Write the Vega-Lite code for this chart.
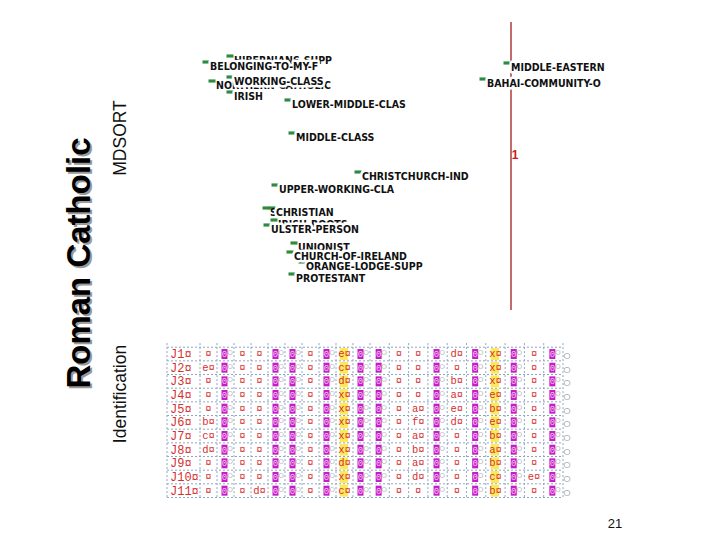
{
  "$schema": "https://vega.github.io/schema/vega-lite/v6.json",
  "width": 720,
  "height": 540,
  "autosize": {"type": "fit", "contains": "padding"},
  "padding": 0,
  "background": "white",
  "config": {"view": {"stroke": null}},
  "datasets": {
    "pts": [
      {"term": "HIBERNIANS-SUPP", "d1": -2.81, "d2": 2.44, "tier": "under"},
      {"term": "BELONGING-TO-MY-F", "d1": -3.05, "d2": 2.38, "tier": "over"},
      {"term": "NORTHERN-CATHOLIC", "d1": -2.99, "d2": 2.19, "tier": "under"},
      {"term": "WORKING-CLASS", "d1": -2.81, "d2": 2.23, "tier": "over"},
      {"term": "IRISH", "d1": -2.81, "d2": 2.08, "tier": "over"},
      {"term": "LOWER-MIDDLE-CLAS", "d1": -2.23, "d2": 2.0, "tier": "over"},
      {"term": "MIDDLE-CLASS", "d1": -2.19, "d2": 1.67, "tier": "over"},
      {"term": "CHRISTCHURCH-IND", "d1": -1.53, "d2": 1.28, "tier": "over"},
      {"term": "UPPER-WORKING-CLA", "d1": -2.36, "d2": 1.15, "tier": "over"},
      {"term": "SCOTTISH", "d1": -2.45, "d2": 0.92, "tier": "under"},
      {"term": "CHRISTIAN", "d1": -2.39, "d2": 0.92, "tier": "over"},
      {"term": "IRISH-ROOTS", "d1": -2.37, "d2": 0.8, "tier": "under"},
      {"term": "ULSTER-PERSON", "d1": -2.44, "d2": 0.75, "tier": "over"},
      {"term": "UNIONIST", "d1": -2.17, "d2": 0.57, "tier": "under"},
      {"term": "CHURCH-OF-IRELAND", "d1": -2.21, "d2": 0.48, "tier": "over"},
      {"term": "ORANGE-LODGE-SUPP", "d1": -2.09, "d2": 0.38, "tier": "over"},
      {"term": "PROTESTANT", "d1": -2.19, "d2": 0.26, "tier": "over"},
      {"term": "MIDDLE-EASTERN", "d1": -0.04, "d2": 2.37, "tier": "over"},
      {"term": "BAHAI-COMMUNITY-O", "d1": -0.28, "d2": 2.21, "tier": "over"}
    ],
    "rows": [
      {"row": 1, "id": "J1¤", "tc": [2,4,5,8,10,13,14,16,18,20], "t": ["¤","¤","¤","¤","e¤","¤","¤","d¤","x¤","¤"], "mc": [3,6,7,9,11,12,15,17,19,21]},
      {"row": 2, "id": "J2¤", "tc": [2,4,5,8,10,13,14,16,18,20], "t": ["e¤","¤","¤","¤","c¤","¤","¤","¤","x¤","¤"], "mc": [3,6,7,9,11,12,15,17,19,21]},
      {"row": 3, "id": "J3¤", "tc": [2,4,5,8,10,13,14,16,18,20], "t": ["¤","¤","¤","¤","d¤","¤","¤","b¤","x¤","¤"], "mc": [3,6,7,9,11,12,15,17,19,21]},
      {"row": 4, "id": "J4¤", "tc": [2,4,5,8,10,13,14,16,18,20], "t": ["¤","¤","¤","¤","x¤","¤","¤","a¤","e¤","¤"], "mc": [3,6,7,9,11,12,15,17,19,21]},
      {"row": 5, "id": "J5¤", "tc": [2,4,5,8,10,13,14,16,18,20], "t": ["¤","¤","¤","¤","x¤","¤","a¤","e¤","b¤","¤"], "mc": [3,6,7,9,11,12,15,17,19,21]},
      {"row": 6, "id": "J6¤", "tc": [2,4,5,8,10,13,14,16,18,20], "t": ["b¤","¤","¤","¤","x¤","¤","f¤","d¤","e¤","¤"], "mc": [3,6,7,9,11,12,15,17,19,21]},
      {"row": 7, "id": "J7¤", "tc": [2,4,5,8,10,13,14,16,18,20], "t": ["c¤","¤","¤","¤","x¤","¤","a¤","¤","b¤","¤"], "mc": [3,6,7,9,11,12,15,17,19,21]},
      {"row": 8, "id": "J8¤", "tc": [2,4,5,8,10,13,14,16,18,20], "t": ["d¤","¤","¤","¤","x¤","¤","b¤","¤","a¤","¤"], "mc": [3,6,7,9,11,12,15,17,19,21]},
      {"row": 9, "id": "J9¤", "tc": [2,4,5,8,10,13,14,16,18,20], "t": ["¤","¤","¤","¤","d¤","¤","a¤","¤","b¤","¤"], "mc": [3,6,7,9,11,12,15,17,19,21]},
      {"row": 10, "id": "J10¤", "tc": [2,4,5,8,10,13,14,16,18,20], "t": ["¤","¤","¤","¤","x¤","¤","d¤","¤","c¤","e¤"], "mc": [3,6,7,9,11,12,15,17,19,21]},
      {"row": 11, "id": "J11¤", "tc": [2,4,5,8,10,13,14,16,18,20], "t": ["¤","¤","d¤","¤","c¤","¤","¤","¤","b¤","¤"], "mc": [3,6,7,9,11,12,15,17,19,21]}
    ],
    "vlines": [{"col": 0},{"col": 1.5},{"col": 2.5},{"col": 3.5},{"col": 4.5},{"col": 5.5},{"col": 6.5},{"col": 7.5},{"col": 8.5},{"col": 9.5},{"col": 10.5},{"col": 11.5},{"col": 12.5},{"col": 13.5},{"col": 14.5},{"col": 15.5},{"col": 16.5},{"col": 17.5},{"col": 18.5},{"col": 19.5},{"col": 20.5},{"col": 21.5}],
    "hlines": [{"row": 0.5},{"row": 1.5},{"row": 2.5},{"row": 3.5},{"row": 4.5},{"row": 5.5},{"row": 6.5},{"row": 7.5},{"row": 8.5},{"row": 9.5},{"row": 10.5},{"row": 11.5}]
  },
  "layer": [
    {
      "encoding": {
        "x": {"field": "d1", "type": "quantitative", "scale": {"domain": [-5.11, 2.09], "nice": false, "zero": false}, "axis": null},
        "y": {"field": "d2", "type": "quantitative", "scale": {"domain": [-2.4, 3.0], "nice": false, "zero": false}, "axis": null}
      },
      "layer": [
        {
          "data": {"values": [{"d1": 0, "d2": 2.78, "d2b": -0.1}]},
          "mark": {"type": "rule", "color": "#b03a3a", "strokeWidth": 1.5},
          "encoding": {"y2": {"field": "d2b"}}
        },
        {
          "data": {"values": [{"d1": 0.04, "d2": 1.45, "txt": "1"}]},
          "mark": {"type": "text", "color": "#d01818", "fontSize": 12, "fontWeight": "bold", "font": "Liberation Sans", "align": "center", "baseline": "middle"},
          "encoding": {"text": {"field": "txt"}}
        },
        {
          "data": {"name": "pts"},
          "mark": {"type": "point", "shape": "M-1,-0.45H1V0.45H-1Z", "size": 49, "filled": true, "color": "#2e8b3a", "opacity": 1}
        },
        {
          "data": {"name": "pts"},
          "transform": [{"filter": "datum.tier == 'under'"}],
          "mark": {"type": "text", "font": "DejaVu Sans Condensed, sans-serif", "fontSize": 10.5, "fontWeight": "bold", "color": "#111111", "align": "left", "baseline": "middle", "dx": 4, "dy": 5},
          "encoding": {"text": {"field": "term"}}
        },
        {
          "data": {"name": "pts"},
          "transform": [{"filter": "datum.tier == 'over'"}],
          "mark": {"type": "text", "font": "DejaVu Sans Condensed, sans-serif", "fontSize": 10.5, "fontWeight": "bold", "color": "white", "stroke": "white", "strokeWidth": 5, "strokeJoin": "round", "align": "left", "baseline": "middle", "dx": 4, "dy": 5},
          "encoding": {"text": {"field": "term"}}
        },
        {
          "data": {"name": "pts"},
          "transform": [{"filter": "datum.tier == 'over'"}],
          "mark": {"type": "text", "font": "DejaVu Sans Condensed, sans-serif", "fontSize": 10.5, "fontWeight": "bold", "color": "#111111", "align": "left", "baseline": "middle", "dx": 4, "dy": 5},
          "encoding": {"text": {"field": "term"}}
        },
        {
          "data": {"values": [{"d1": -4.31, "d2": 0.37, "txt": "Roman Catholic"}]},
          "mark": {"type": "text", "font": "Liberation Sans", "fontSize": 33, "fontWeight": "bold", "color": "#9a9a9a", "angle": 270, "align": "center", "baseline": "middle", "dx": -2, "dy": 2},
          "encoding": {"text": {"field": "txt"}}
        },
        {
          "data": {"values": [{"d1": -4.31, "d2": 0.37, "txt": "Roman Catholic"}]},
          "mark": {"type": "text", "font": "Liberation Sans", "fontSize": 33, "fontWeight": "bold", "color": "#000000", "angle": 270, "align": "center", "baseline": "middle"},
          "encoding": {"text": {"field": "txt"}}
        },
        {
          "data": {"values": [{"d1": -3.9, "d2": 1.62, "txt": "MDSORT"}, {"d1": -3.9, "d2": -0.94, "txt": "Identification"}]},
          "mark": {"type": "text", "font": "Liberation Sans", "fontSize": 17.5, "color": "#111111", "angle": 270, "align": "center", "baseline": "middle"},
          "encoding": {"text": {"field": "txt"}}
        },
        {
          "data": {"values": [{"d1": 1.04, "d2": -2.24, "txt": "21"}]},
          "mark": {"type": "text", "font": "Liberation Sans", "fontSize": 13, "color": "#111111", "align": "center", "baseline": "middle"},
          "encoding": {"text": {"field": "txt"}}
        }
      ]
    },
    {
      "layer": [
        {
          "data": {"name": "vlines"},
          "mark": {"type": "rule", "color": "#8fa6c2", "strokeWidth": 1, "strokeDash": [2, 2]},
          "encoding": {
            "x": {"field": "col", "type": "quantitative", "scale": {"domain": [0, 1.5, 11.5, 21.5], "range": [167, 200, 370, 563], "nice": false, "zero": false}, "axis": null},
            "y": {"datum": 0.2, "type": "quantitative", "scale": {"domain": [0.5, 11.5], "range": [347.2, 497.5], "nice": false, "zero": false}, "axis": null},
            "y2": {"datum": 11.5}
          }
        },
        {
          "data": {"name": "hlines"},
          "mark": {"type": "rule", "color": "#8fa6c2", "strokeWidth": 1, "strokeDash": [2, 2]},
          "encoding": {
            "x": {"datum": 0, "type": "quantitative", "scale": {"domain": [0, 1.5, 11.5, 21.5], "range": [167, 200, 370, 563], "nice": false, "zero": false}, "axis": null},
            "x2": {"datum": 21.5},
            "y": {"field": "row", "type": "quantitative", "scale": {"domain": [0.5, 11.5], "range": [347.2, 497.5], "nice": false, "zero": false}, "axis": null}
          }
        },
        {
          "data": {"name": "rows"},
          "transform": [{"flatten": ["tc", "t"], "as": ["col", "txt"]}, {"filter": "datum.col == 10 || datum.col == 18"}],
          "mark": {"type": "point", "shape": "M-0.8,-1H0.6V1H-0.8Z", "size": 144, "filled": true, "color": "#fbe64a", "opacity": 0.9},
          "encoding": {
            "x": {"field": "col", "type": "quantitative", "scale": {"domain": [0, 1.5, 11.5, 21.5], "range": [167, 200, 370, 563], "nice": false, "zero": false}, "axis": null},
            "y": {"field": "row", "type": "quantitative", "scale": {"domain": [0.5, 11.5], "range": [347.2, 497.5], "nice": false, "zero": false}, "axis": null}
          }
        },
        {
          "data": {"name": "rows"},
          "transform": [{"flatten": ["tc", "t"], "as": ["col", "txt"]}],
          "mark": {"type": "text", "font": "Liberation Mono, DejaVu Sans Mono, monospace", "fontSize": 10.5, "color": "#d43030", "align": "center", "baseline": "middle"},
          "encoding": {
            "x": {"field": "col", "type": "quantitative", "scale": {"domain": [0, 1.5, 11.5, 21.5], "range": [167, 200, 370, 563], "nice": false, "zero": false}, "axis": null},
            "y": {"field": "row", "type": "quantitative", "scale": {"domain": [0.5, 11.5], "range": [347.2, 497.5], "nice": false, "zero": false}, "axis": null},
            "text": {"field": "txt"}
          }
        },
        {
          "data": {"name": "rows"},
          "transform": [{"flatten": ["mc"], "as": ["col"]}],
          "mark": {"type": "point", "shape": "M-0.8,-1H0.4V1H-0.8Z", "size": 100, "filled": true, "color": "#c41fc4", "opacity": 1},
          "encoding": {
            "x": {"field": "col", "type": "quantitative", "scale": {"domain": [0, 1.5, 11.5, 21.5], "range": [167, 200, 370, 563], "nice": false, "zero": false}, "axis": null},
            "y": {"field": "row", "type": "quantitative", "scale": {"domain": [0.5, 11.5], "range": [347.2, 497.5], "nice": false, "zero": false}, "axis": null}
          }
        },
        {
          "data": {"name": "rows"},
          "transform": [{"flatten": ["mc"], "as": ["col"]}],
          "mark": {"type": "text", "text": "0", "font": "Liberation Mono, monospace", "fontSize": 9, "color": "#f7c6f7", "align": "center", "baseline": "middle", "dx": -1},
          "encoding": {
            "x": {"field": "col", "type": "quantitative", "scale": {"domain": [0, 1.5, 11.5, 21.5], "range": [167, 200, 370, 563], "nice": false, "zero": false}, "axis": null},
            "y": {"field": "row", "type": "quantitative", "scale": {"domain": [0.5, 11.5], "range": [347.2, 497.5], "nice": false, "zero": false}, "axis": null}
          }
        },
        {
          "data": {"name": "rows"},
          "transform": [{"flatten": ["mc"], "as": ["col"]}],
          "mark": {"type": "text", "text": "○", "font": "DejaVu Sans", "fontSize": 6, "color": "#666666", "align": "center", "baseline": "middle", "dx": 4.5, "dy": -2},
          "encoding": {
            "x": {"field": "col", "type": "quantitative", "scale": {"domain": [0, 1.5, 11.5, 21.5], "range": [167, 200, 370, 563], "nice": false, "zero": false}, "axis": null},
            "y": {"field": "row", "type": "quantitative", "scale": {"domain": [0.5, 11.5], "range": [347.2, 497.5], "nice": false, "zero": false}, "axis": null}
          }
        },
        {
          "data": {"name": "rows"},
          "mark": {"type": "text", "font": "Liberation Mono, DejaVu Sans Mono, monospace", "fontSize": 12, "color": "#d43030", "align": "left", "baseline": "middle", "dx": 3},
          "encoding": {
            "x": {"datum": 0, "type": "quantitative", "scale": {"domain": [0, 1.5, 11.5, 21.5], "range": [167, 200, 370, 563], "nice": false, "zero": false}, "axis": null},
            "y": {"field": "row", "type": "quantitative", "scale": {"domain": [0.5, 11.5], "range": [347.2, 497.5], "nice": false, "zero": false}, "axis": null},
            "text": {"field": "id"}
          }
        },
        {
          "data": {"name": "rows"},
          "mark": {"type": "text", "text": "○", "font": "DejaVu Sans", "fontSize": 8, "color": "#666666", "align": "center", "baseline": "middle", "dx": 4, "dy": 2},
          "encoding": {
            "x": {"datum": 21.5, "type": "quantitative", "scale": {"domain": [0, 1.5, 11.5, 21.5], "range": [167, 200, 370, 563], "nice": false, "zero": false}, "axis": null},
            "y": {"field": "row", "type": "quantitative", "scale": {"domain": [0.5, 11.5], "range": [347.2, 497.5], "nice": false, "zero": false}, "axis": null}
          }
        }
      ]
    }
  ],
  "resolve": {"scale": {"x": "independent", "y": "independent"}}
}
